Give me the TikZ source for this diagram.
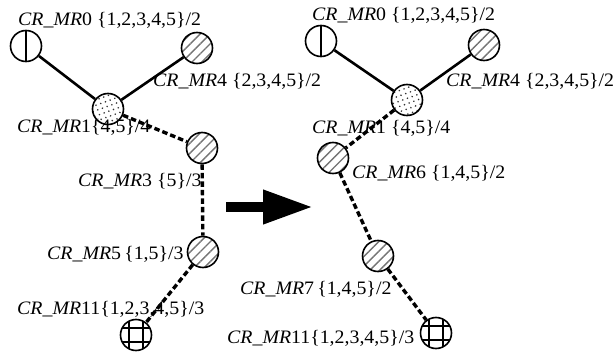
\documentclass[tikz,border=0pt]{standalone}
\usepackage{fontspec}
\setmainfont{Liberation Serif}[FakeStretch=1.045]
\usetikzlibrary{arrows.meta,patterns.meta}

\begin{document}
\begin{tikzpicture}[x=1pt,y=-1pt]
\tikzset{
  mrnode/.style={circle,draw,line width=1.6pt,minimum size=31pt,inner sep=0pt},
  halfnode/.style={mrnode,path picture={\draw[line width=1.1pt] (path picture bounding box.north) -- (path picture bounding box.south);}},
  hatchnode/.style={mrnode,pattern={Lines[angle=45,distance=7pt,line width=1.4pt]},pattern color=black!55},
  dotnode/.style={mrnode,pattern={Dots[radius=0.9pt,distance=5pt,angle=20]},pattern color=black!80},
  gridnode/.style={mrnode,path picture={
    \foreach \d in {-7pt,7pt}{
      \draw[line width=1.1pt] ([xshift=\d]path picture bounding box.north) -- ([xshift=\d]path picture bounding box.south);
      \draw[line width=1.1pt] ([yshift=\d]path picture bounding box.west) -- ([yshift=\d]path picture bounding box.east);
    }}},
  mrlabel/.style={anchor=base west,inner sep=0pt,font=\fontsize{19}{23}\selectfont},
  solidedge/.style={line width=2.6pt},
  dashedge/.style={line width=3.4pt,dash pattern=on 5.5pt off 3pt},
  bigarrow/.style={-{Triangle[length=50pt,width=32pt]},line width=10pt}
}
\useasboundingbox (0,0) rectangle (616,353);
% before
\node[halfnode] (n_L0) at (26,46) {};
\node[hatchnode] (n_L4) at (197,48) {};
\node[dotnode] (n_L1) at (108,109) {};
\node[hatchnode] (n_L3) at (202,148) {};
\node[hatchnode] (n_L5) at (203,252) {};
\node[gridnode] (n_L11) at (136,335) {};
\node[mrlabel] (t_L0) at (18,26) {\textit{CR\_MR}0 \{1,2,3,4,5\}/2};
\node[mrlabel] (t_L4) at (153,86) {\textit{CR\_MR}4 \{2,3,4,5\}/2};
\node[mrlabel] (t_L1) at (17,132) {\textit{CR\_MR}1\{4,5\}/4};
\node[mrlabel] (t_L3) at (78,186) {\textit{CR\_MR}3 \{5\}/3};
\node[mrlabel] (t_L5) at (47,259) {\textit{CR\_MR}5\,\{1,5\}/3};
\node[mrlabel] (t_L11) at (17,314) {\textit{CR\_MR}11\{1,2,3,4,5\}/3};
\draw[solidedge] (n_L0) -- (n_L1);
\draw[solidedge] (n_L4) -- (n_L1);
\draw[dashedge] (n_L1) -- (n_L3);
\draw[dashedge] (n_L3) -- (n_L5);
\draw[dashedge] (n_L5) -- (n_L11);
% arrow
\coordinate (a_from) at (226,207);
\coordinate (a_to) at (313,207);
\draw[bigarrow] (a_from) -- (a_to);
% after
\node[halfnode] (n_R0) at (321,41) {};
\node[hatchnode] (n_R4) at (484,45) {};
\node[dotnode] (n_R1) at (407,100) {};
\node[hatchnode] (n_R6) at (333,158) {};
\node[hatchnode] (n_R7) at (378,256) {};
\node[gridnode] (n_R11) at (436,333) {};
\node[mrlabel] (t_R0) at (312,21) {\textit{CR\_MR}0 \{1,2,3,4,5\}/2};
\node[mrlabel] (t_R4) at (446,86) {\textit{CR\_MR}4 \{2,3,4,5\}/2};
\node[mrlabel] (t_R1) at (312,133) {\textit{CR\_MR}1 \{4,5\}/4};
\node[mrlabel] (t_R6) at (352,178) {\textit{CR\_MR}6 \{1,4,5\}/2};
\node[mrlabel] (t_R7) at (240,294) {\textit{CR\_MR}7\,\{1,4,5\}/2};
\node[mrlabel] (t_R11) at (227,343) {\textit{CR\_MR}11\{1,2,3,4,5\}/3};
\draw[solidedge] (n_R0) -- (n_R1);
\draw[solidedge] (n_R4) -- (n_R1);
\draw[dashedge] (n_R1) -- (n_R6);
\draw[dashedge] (n_R6) -- (n_R7);
\draw[dashedge] (n_R7) -- (n_R11);
\end{tikzpicture}
\end{document}
